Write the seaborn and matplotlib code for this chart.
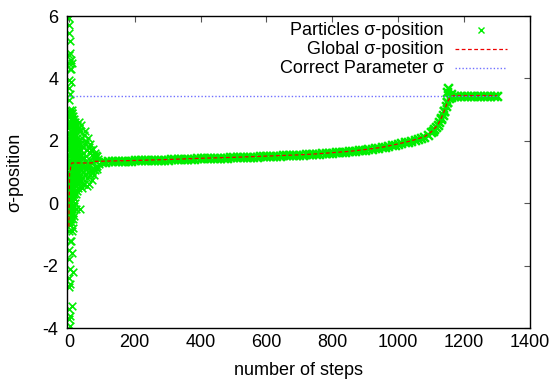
import numpy as np
import pandas as pd
import matplotlib
matplotlib.use("Agg")
import matplotlib.pyplot as plt
import seaborn as sns

# ========== data ==========
# early swarm (first ~90 steps, particles spread out)
early_steps = [0, 1, 0, 2, 1, 0, 2, 1, 0, 1, 2, 0, 1, 0, 2, 1, 0, 2, 1, 0, 1, 2, 0, 1, 0, 2, 1, 0, 2, 1, 0, 1, 0, 2,
               4, 6, 5, 8, 7, 3, 9, 5, 11, 6, 8, 4, 10, 7, 12, 5, 9, 6, 13, 8, 4, 11, 7, 14, 5, 10, 6, 9, 12, 4, 8, 3,
               3, 5, 7, 9, 11, 13, 15, 4, 6, 8, 10, 12, 14, 16, 18, 3, 5, 7, 9, 11, 13, 15, 17, 19, 6, 10, 14,
               16, 18, 20, 22, 25, 27, 30, 33, 35, 38, 40, 42, 45, 48, 50, 53, 55, 58, 60, 63, 65, 68, 70, 73, 75,
               78, 80, 83, 85, 88,
               17, 19, 21, 24, 26, 29, 31, 34, 36, 39, 41, 44, 46, 49, 51, 54, 56, 59, 61, 64, 66, 69, 71, 74, 76,
               79, 81, 84, 86, 90,
               20, 28, 36, 44, 52, 60, 70, 80, 24, 32, 40, 48, 56, 64,
               3, 5, 8, 10, 13, 15, 18, 20, 23, 25, 28, 30,
               4, 7, 9, 12, 14, 17, 19, 22, 24, 27, 29, 32,
               2, 6, 11, 16, 21, 26, 31, 36,
               5, 9, 13, 17, 21, 25, 33, 38, 42,
               3, 8, 12, 16, 20, 24, 28, 35, 40, 45, 50,
               6, 11, 15, 19, 23, 27, 34, 44,
               1, 3, 5, 7, 9, 11, 13, 15, 17, 19, 21, 23,
               2, 4, 6, 8, 10, 12, 14, 16, 18, 20, 22, 26,
               1, 3, 5, 7, 9, 11, 13, 15, 17, 25, 30, 37, 43, 47, 52, 57]
early_sigma = [5.95, 5.7, 5.45, 5.2, 4.75, 4.5, 4.3, 3.95, 3.7, 3.3, 3.0, 2.75, 2.5, 2.25, 2.0, 1.75, 1.5, 1.2,
               0.9, 0.6, 0.3, 0.0, -0.3, -0.6, -0.9, -1.2, -1.5, -1.8, -2.1, -2.4, -2.7, -3.4, -3.7, -3.95,
               4.8, 4.6, 4.3, 4.5, 3.9, 3.5, 2.9, 2.7, 2.5, 2.3, 2.1, 1.9, 1.8, 1.6, 1.5, 1.3, 1.1, 0.9, 0.8, 0.6,
               0.4, 0.2, -0.1, -0.3, -0.6, -0.9, -1.2, -1.6, -2.2, -2.6, -3.3, -3.6,
               2.8, 2.5, 2.2, 1.9, 1.6, 1.3, 1.0, 0.7, 0.4, 0.1, -0.2, -0.5, 2.4, 2.0, 1.7, 1.4, 1.1, 0.8, 0.5,
               0.2, -0.1, -0.4, 1.2, 0.9, 2.1, 1.75, 1.25,
               2.7, 2.4, 2.6, 2.2, 2.5, 2.0, 2.6, 2.3, 1.9, 2.5, 2.1, 1.8, 2.2, 2.3, 1.9, 2.0, 1.7, 2.1, 1.8, 1.6,
               1.9, 1.7, 1.55, 1.75, 1.5, 1.6, 1.45, 1.55, 1.5, 1.42,
               0.3, 0.6, -0.2, 0.9, 0.4, 1.0, 0.7, -0.2, 1.1, 0.5, 0.8, 1.0, 0.6, 0.9, 1.1, 0.55, 0.8, 1.0, 0.6,
               0.9, 1.05, 0.75, 1.0, 1.1, 0.9, 1.05, 1.15, 1.1, 1.2, 1.25,
               1.4, 1.2, 1.5, 1.3, 1.35, 1.25, 1.3, 1.35, 1.6, 1.5, 1.45, 1.2, 1.25, 1.4,
               2.6, 2.3, 2.7, 2.0, 2.4, 1.8, 2.2, 2.5, 1.6, 2.1, 1.9, 2.3,
               1.5, 1.2, 1.7, 1.4, 1.0, 1.6, 1.3, 1.1, 1.5, 1.2, 1.7, 1.4,
               0.4, 0.8, 0.5, 0.9, 0.7, 1.0, 0.8, 1.2,
               0.1, -0.3, 0.2, 0.4, 0.3, 0.6, 1.9, 1.7, 1.6,
               2.9, 3.0, 2.8, 2.6, 2.0, 1.7, 1.4, 1.1, 1.3, 1.45, 1.2,
               -0.5, -0.8, -0.1, 0.0, 1.9, 0.5, 0.9, 1.0,
               0.2, 0.5, 1.1, 1.8, 2.7, 0.3, 2.2, 0.6, 1.4, 2.0, 1.1, 1.8,
               -0.7, -0.2, 0.0, 2.9, 0.6, 1.9, 0.3, 2.3, 0.8, 1.4, 1.6, 0.7,
               2.1, 1.3, 0.9, -0.4, 1.6, 2.5, 2.0, 0.9, 1.4, 1.9, 2.4, 0.7, 1.8, 0.6, 0.95, 1.2]

# converged swarm, one sample every 10 steps (100 .. 1300)
band_steps = list(range(100, 1310, 10))
band_sigma = [1.33, 1.335, 1.34, 1.34, 1.345, 1.35, 1.355, 1.36, 1.36, 1.365,
              1.37, 1.37, 1.375, 1.38, 1.38, 1.385, 1.39, 1.39, 1.395, 1.40,
              1.40, 1.405, 1.41, 1.41, 1.415, 1.42, 1.425, 1.43, 1.43, 1.435,
              1.44, 1.443, 1.446, 1.45, 1.452, 1.455, 1.458, 1.46, 1.464, 1.467,
              1.47, 1.472, 1.476, 1.48, 1.484, 1.488, 1.492, 1.496, 1.50, 1.505,
              1.51, 1.514, 1.518, 1.522, 1.526, 1.53, 1.534, 1.538, 1.542, 1.546,
              1.55, 1.556, 1.562, 1.568, 1.574, 1.58, 1.588, 1.596, 1.604, 1.612,
              1.62, 1.628, 1.636, 1.644, 1.652, 1.66, 1.672, 1.684, 1.696, 1.708,
              1.72, 1.734, 1.748, 1.762, 1.776, 1.79, 1.81, 1.83, 1.85, 1.875,
              1.90, 1.925, 1.95, 1.975, 2.0, 2.03, 2.06, 2.09, 2.13, 2.2,
              2.28, 2.38, 2.5, 2.7, 2.95, 3.25, 3.42, 3.45, 3.45, 3.45,
              3.45, 3.45, 3.45, 3.45, 3.45, 3.45, 3.45, 3.45, 3.45, 3.45,
              3.45]
# extra particles on the steep part + small overshoot
steep_steps = [1105, 1115, 1125, 1130, 1135, 1140, 1145, 1150, 1155, 1152, 1148, 1160]
steep_sigma = [2.32, 2.44, 2.6, 2.72, 2.82, 2.95, 3.1, 3.25, 3.38, 3.68, 3.55, 3.5]

# global best position
global_steps = [0, 2, 4, 6, 9, 20, 70, 75, 200, 300, 400, 500, 600, 700, 750, 800, 850, 900, 950,
                1000, 1040, 1080, 1100, 1120, 1130, 1140, 1150, 1160, 1170, 1300]
global_sigma = [-0.75, 0.95, 1.05, 1.2, 1.29, 1.29, 1.29, 1.34, 1.37, 1.40, 1.44, 1.47, 1.51, 1.55, 1.58,
                1.62, 1.66, 1.72, 1.79, 1.90, 2.0, 2.13, 2.28, 2.5, 2.7, 2.95, 3.25, 3.42, 3.45, 3.45]

# true parameter
correct_steps = [0, 1300]
correct_sigma = [3.43, 3.43]

GREEN = "#00ee00"
RED = "#ee0000"
BLUE = "#7070ff"
FS = 13

early = pd.DataFrame({"step": early_steps, "sigma": early_sigma})
band = pd.DataFrame({"step": band_steps + steep_steps, "sigma": band_sigma + steep_sigma})
best = pd.DataFrame({"step": global_steps, "sigma": global_sigma})
correct = pd.DataFrame({"step": correct_steps, "sigma": correct_sigma})

# ========== plot ==========
sns.set_theme(style="white")
plt.rcParams["font.family"] = ["Liberation Sans", "DejaVu Sans"]
plt.rcParams["text.color"] = "black"
plt.rcParams["axes.labelcolor"] = "black"

fig = plt.figure(figsize=(5.53, 3.83), dpi=100)
ax = fig.add_axes([0.121, 0.1436, 0.837, 0.8146])

sns.scatterplot(data=early, x="step", y="sigma", marker="x", color=GREEN,
                s=30, linewidth=1.2, ax=ax, zorder=2)
sns.scatterplot(data=band, x="step", y="sigma", marker="x", color=GREEN,
                s=40, linewidth=1.8, ax=ax, zorder=2)
sns.lineplot(data=best, x="step", y="sigma", color=RED, linewidth=0.9,
             ax=ax, zorder=3, linestyle=(0, (3, 2)), sort=False)
sns.lineplot(data=correct, x="step", y="sigma", color=BLUE, linewidth=1.0,
             ax=ax, zorder=3, linestyle=(0, (1, 1.5)))

ax.set_xlim(-6, 1400)
ax.set_ylim(-4, 6)
ax.set_xticks([0, 200, 400, 600, 800, 1000, 1200, 1400])
ax.set_yticks([-4, -2, 0, 2, 4, 6])
ax.set_yticklabels(["-4", "-2", "0", "2", "4", "6"])

for s in ax.spines.values():
    s.set_color("black")
    s.set_linewidth(1.0)
ax.tick_params(direction="in", length=4, width=0.8, color="#555555",
               top=True, right=True, labelsize=FS, labelcolor="black")
ax.tick_params(axis="x", pad=4)
ax.tick_params(axis="y", pad=6)

ax.set_xlabel("number of steps", fontsize=FS)
ax.set_ylabel("σ-position", fontsize=FS)
ax.xaxis.set_label_coords(0.5, -0.108)
ax.yaxis.set_label_coords(-0.095, 0.5)

# gnuplot-style key: text right aligned, sample on the right
key_labels = ["Particles σ-position", "Global σ-position", "Correct Parameter σ"]
key_y = [0.955, 0.894, 0.833]
for lab, yy in zip(key_labels, key_y):
    ax.text(0.814, yy, lab, transform=ax.transAxes, ha="right", va="center",
            fontsize=FS, color="black")
ax.plot([0.894], [key_y[0]], transform=ax.transAxes, marker="x", color=GREEN,
        markersize=4, markeredgewidth=1.0, linestyle="none")
ax.plot([0.838, 0.95], [key_y[1]] * 2, transform=ax.transAxes, color=RED,
        linewidth=0.9, linestyle=(0, (3, 2)))
ax.plot([0.838, 0.95], [key_y[2]] * 2, transform=ax.transAxes, color=BLUE,
        linewidth=1.0, linestyle=(0, (1, 1.5)))

fig.savefig("out.png", dpi=100)
